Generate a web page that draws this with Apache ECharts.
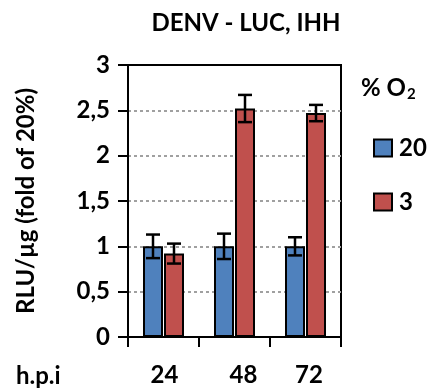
<!DOCTYPE html>
<html>
<head>
<meta charset="utf-8">
<script src="https://cdn.jsdelivr.net/npm/echarts@6/dist/echarts.min.js"></script>
<style>
html,body{margin:0;padding:0;background:#fff;}
#c{width:427px;height:388px;}
</style>
</head>
<body>
<div id="c"></div>
<script>
const categories = ['24', '48', '72'];
const o2_20 = [1.0, 1.0, 1.0];
const o2_3 = [0.92, 2.52, 2.47];
const err_20 = [0.13, 0.14, 0.10];
const err_3 = [0.11, 0.15, 0.09];
const yTicks = [0, 0.5, 1, 1.5, 2, 2.5, 3];

const FONT = 'Lato';
const BAR_W = 20;
const BAR_GAP_PX = 1;
// label nudges (px) as placed in the original figure
const labelShift = [2, 18, 7];

function errSeries(name, values, errs, sign) {
  return {
    type: 'custom',
    name: name + '_err',
    z: 10,
    silent: true,
    data: values.map((v, i) => [i, v, errs[i]]),
    renderItem: function (params, api) {
      const i = api.value(0), v = api.value(1), e = api.value(2);
      const off = sign * (BAR_W + BAR_GAP_PX) / 2;
      const top = api.coord([i, v + e]);
      const bot = api.coord([i, v - e]);
      const x = top[0] + off;
      const cap = 7;
      const st = { stroke: '#000', lineWidth: 2.5 };
      return {
        type: 'group',
        children: [
          { type: 'line', shape: { x1: x, y1: top[1], x2: x, y2: bot[1] }, style: st },
          { type: 'line', shape: { x1: x - cap, y1: top[1], x2: x + cap, y2: top[1] }, style: st },
          { type: 'line', shape: { x1: x - cap, y1: bot[1], x2: x + cap, y2: bot[1] }, style: st }
        ]
      };
    }
  };
}

const labelRich = {};
categories.forEach((c, i) => {
  labelRich['c' + i] = {
    fontFamily: FONT, fontWeight: 'bold', fontSize: 24, color: '#000',
    padding: [0, 0, 0, labelShift[i]]
  };
});

const chart = echarts.init(document.getElementById('c'), null, { renderer: 'canvas' });
chart.setOption({
  backgroundColor: '#fff',
  animation: false,
  textStyle: { fontFamily: FONT },
  title: [{
    text: 'DENV - LUC, IHH',
    left: 241, top: 6, textAlign: 'center',
    textStyle: { fontFamily: FONT, fontWeight: 'bold', fontSize: 24, color: '#000' }
  }, {
    text: '{a|% O}{s|2}',
    left: 356, top: 70,
    textStyle: {
      rich: {
        a: { fontFamily: FONT, fontWeight: 'bold', fontSize: 24, color: '#000' },
        s: { fontFamily: FONT, fontWeight: 'bold', fontSize: 15, color: '#000', padding: [12, 0, 0, 1] }
      }
    }
  }],
  legend: {
    orient: 'vertical',
    left: 368, top: 131,
    itemWidth: 18, itemHeight: 17, itemGap: 30,
    icon: 'rect',
    textStyle: { fontFamily: FONT, fontWeight: 'bold', fontSize: 24, color: '#000', padding: [0, 0, 0, 2] },
    data: ['20', '3']
  },
  grid: {
    left: 128, right: 86, top: 65, bottom: 51,
    show: true, borderColor: '#000', borderWidth: 2
  },
  xAxis: [{
    type: 'category',
    data: categories,
    axisLine: { lineStyle: { color: '#000', width: 2 } },
    axisTick: { show: true, length: 10, lineStyle: { color: '#000', width: 2 } },
    axisLabel: {
      interval: 0, hideOverlap: false,
      fontFamily: FONT, fontWeight: 'bold', fontSize: 24, color: '#000', margin: 26,
      formatter: (v, i) => '{c' + i + '|' + v + '}',
      rich: labelRich
    }
  }, {
    type: 'category',
    data: categories,
    position: 'top',
    axisLine: { show: true, lineStyle: { color: '#000', width: 2 } },
    axisTick: { show: false },
    axisLabel: { show: false },
    splitLine: { show: false }
  }],
  yAxis: {
    type: 'value',
    min: yTicks[0], max: yTicks[yTicks.length - 1], interval: 0.5,
    name: 'RLU/µg (fold of 20%)',
    nameLocation: 'middle',
    nameGap: 90,
    nameTextStyle: { fontFamily: FONT, fontWeight: 'bold', fontSize: 24, color: '#000' },
    axisLine: { show: true, lineStyle: { color: '#000', width: 2 } },
    axisTick: { show: true, length: 10, lineStyle: { color: '#000', width: 2 } },
    axisLabel: {
      fontFamily: FONT, fontWeight: 'bold', fontSize: 24, color: '#000', margin: 18,
      formatter: v => String(v).replace('.', ',')
    },
    splitLine: { show: true, lineStyle: { color: '#A0A0A0', type: [3, 3], width: 2 } }
  },
  graphic: [{
    type: 'text',
    left: 16, top: 364,
    style: { text: 'h.p.i', fontFamily: FONT, fontWeight: 'bold', fontSize: 24, fill: '#000' }
  }],
  series: [
    {
      name: '20', type: 'bar', data: o2_20,
      barWidth: BAR_W, barGap: (BAR_GAP_PX / BAR_W * 100) + '%',
      itemStyle: { color: '#4F81BD', borderColor: '#000', borderWidth: 2 }
    },
    {
      name: '3', type: 'bar', data: o2_3,
      barWidth: BAR_W,
      itemStyle: { color: '#C0504D', borderColor: '#000', borderWidth: 2 }
    },
    errSeries('20', o2_20, err_20, -1),
    errSeries('3', o2_3, err_3, 1)
  ]
});
</script>
</body>
</html>
